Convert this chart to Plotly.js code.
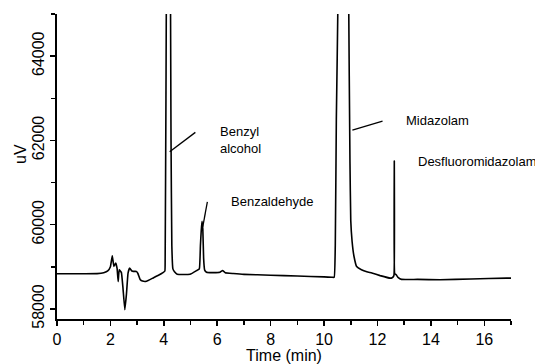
<!DOCTYPE html>
<html>
<head>
<meta charset="utf-8">
<script src="https://cdn.plot.ly/plotly-3.0.1.min.js"></script>
<style>html,body{margin:0;padding:0;background:#fff;}#chart{width:535px;height:364px;}</style>
</head>
<body>
<div id="chart"></div>
<script>
// Chromatogram trace: retention time (min) and detector signal (uV)
var timeMin = [
  0.00, 1.00, 1.50, 1.75, 1.90, 2.00, 2.07, 2.13, 2.20, 2.25, 2.29, 2.33, 2.41, 2.47, 2.54, 2.60, 2.66, 2.72,
  2.80, 2.85, 2.97, 3.03, 3.12, 3.20, 3.35, 3.60, 3.80, 3.97, 4.04,
  4.05, 4.08, 4.16, 4.24, 4.27, 4.30, 4.34, 4.40, 4.50, 4.98, 5.23, 5.33, 5.37, 5.40, 5.43, 5.46, 5.49, 5.53,
  5.60, 5.80, 6.10, 6.20, 6.30, 6.60, 7.00, 8.00, 9.00, 10.00, 10.30,
  10.38, 10.42, 10.46, 10.52, 10.60, 10.75, 10.85, 10.92, 10.97, 11.00, 11.05, 11.12, 11.22, 11.40, 11.60, 11.79,
  12.10, 12.47, 12.55, 12.615, 12.63, 12.645, 12.70, 12.78, 12.90, 13.50, 14.34, 15.50, 16.84, 17.00
];
var signalUV = [
  58835, 58835, 58838, 58860, 58900, 59000, 59260, 59010, 59090, 58960, 58650, 58930, 58866, 58500, 57980, 58350, 58850, 58970,
  58900, 58890, 58890, 58840, 58690, 58660, 58655, 58735, 58800, 58860, 58900,
  59200, 63000, 75000, 67000, 62000, 59500, 58950, 58880, 58820, 58820, 58910, 58950, 59500, 59850, 60080, 59900, 59200, 58920,
  58870, 58860, 58870, 58910, 58860, 58840, 58820, 58800, 58780, 58760, 58750,
  58750, 59500, 62500, 65300, 80000, 90000, 80000, 65500, 61500, 60100, 59600, 59250, 59005, 58930, 58880, 58850,
  58790, 58730, 58740, 58790, 61510, 58840, 58810, 58740, 58700, 58700, 58690, 58710, 58730, 58730
];

// Peak labels
var labelText = ["Benzyl<br>alcohol", "Benzaldehyde", "Midazolam", "Desfluoromidazolam"];
var labelTime = [6.02, 6.43, 12.99, 13.46];
var labelUV   = [62008, 60540, 62479, 61487];

// Leader lines [t0, uV0, t1, uV1]
var leaderLines = [
  [4.22, 61731, 5.18, 62190],
  [5.46, 59950, 5.63, 60540],
  [11.06, 62245, 12.19, 62458]
];

var xTickVals = [0, 2, 4, 6, 8, 10, 12, 14, 16];
var yTickVals = [58000, 60000, 62000, 64000];

var FONT = "Liberation Sans, Arial, Helvetica, sans-serif";

var trace = {
  x: timeMin, y: signalUV, type: "scatter", mode: "lines",
  line: {color: "#000", width: 1.6, shape: "spline", smoothing: 0.3},
  hoverinfo: "skip"
};

var annotations = labelText.map(function (t, i) {
  return {
    x: labelTime[i], y: labelUV[i], xref: "x", yref: "y", text: t,
    showarrow: false, xanchor: "left", yanchor: "middle", align: "left",
    font: {family: FONT, size: 13, color: "#000"}
  };
});
annotations.push({
  x: -0.08, y: 0.54, xref: "paper", yref: "paper", text: "uV", textangle: -90,
  showarrow: false, xanchor: "center", yanchor: "middle",
  font: {family: FONT, size: 16, color: "#000"}
});

var shapes = leaderLines.map(function (l) {
  return {type: "line", xref: "x", yref: "y", x0: l[0], y0: l[1], x1: l[2], y1: l[3],
          line: {color: "#000", width: 1.3}};
});

var layout = {
  width: 535, height: 364,
  margin: {l: 57, r: 24, t: 14, b: 45},
  paper_bgcolor: "#fff", plot_bgcolor: "#fff",
  showlegend: false,
  font: {family: FONT, color: "#000"},
  xaxis: {
    range: [0, 17], tickvals: xTickVals, ticktext: xTickVals.map(String),
    showline: true, linecolor: "#000", linewidth: 2,
    ticks: "outside", ticklen: 5, tickwidth: 1.5, tickcolor: "#000",
    minor: {dtick: 1, tick0: 0, ticks: "outside", ticklen: 4, tickwidth: 1.5, tickcolor: "#000", showgrid: false},
    showgrid: false, zeroline: false,
    tickfont: {family: FONT, size: 16, color: "#000"},
    title: {text: "Time (min)", font: {family: FONT, size: 16, color: "#000"}, standoff: 2}
  },
  yaxis: {
    range: [57760, 65000], tickvals: yTickVals, ticktext: yTickVals.map(String),
    showline: true, linecolor: "#000", linewidth: 2,
    ticks: "outside", ticklen: 5, tickwidth: 1.5, tickcolor: "#000",
    minor: {dtick: 1000, tick0: 0, ticks: "outside", ticklen: 4, tickwidth: 1.5, tickcolor: "#000", showgrid: false},
    showgrid: false, zeroline: false, tickangle: -90,
    tickfont: {family: FONT, size: 16, color: "#000"}
  },
  annotations: annotations,
  shapes: shapes
};

Plotly.newPlot("chart", [trace], layout, {displayModeBar: false, staticPlot: true});
</script>
</body>
</html>
